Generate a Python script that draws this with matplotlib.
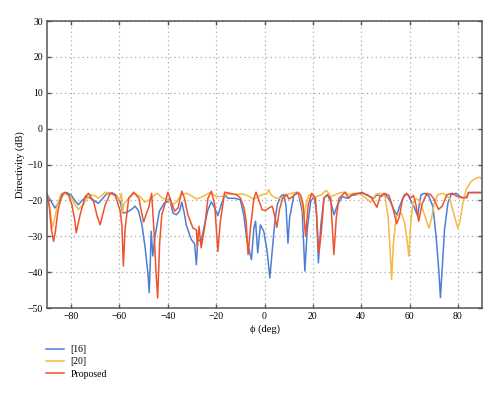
import matplotlib
matplotlib.use("Agg")
import matplotlib.pyplot as plt

plt.rcParams['font.family'] = ['Liberation Serif', 'DejaVu Serif']

# ---- data: [16] ----
phi_16 = [-90, -88.5, -86.7, -85, -83.2, -81.8, -80, -78.5, -77, -75.5, -73.5, -71, -68.8, -67, -65.5,
          -63.2, -61.5, -59.7, -58.7, -56.9, -54.8, -53.6, -52.2, -50.7, -49.3, -48.2, -47.7, -47.2,
          -46.9, -46.2, -45.3, -43.5, -41.4, -40, -39.2, -37.9, -36.5, -35.2, -34.2, -33.2, -32.4,
          -30.3, -28.9, -28.2, -27.6, -26.2, -24.8, -23.4, -22, -20.6, -19.3, -17.9, -16.5, -15.1,
          -12.3, -10, -8.6, -7.2, -5.4, -4.4, -3.7, -2.8, -1.7, -0.3, 1.1, 2.2, 3.2, 4.3, 5.3, 6.6,
          8, 8.9, 9.7, 10.4, 12.2, 14, 15.6, 16.7, 17.7, 19.1, 20.5, 21.5, 22.3, 23.3, 24.6, 26, 27.4,
          28.8, 30.2, 32.2, 34.1, 36, 38, 40.3, 42.5, 45.2, 46.6, 48.3, 49.7, 51.7, 53.8, 54.8, 56,
          57.9, 59.3, 60.7, 62.1, 63.4, 64.1, 64.8, 66.2, 68, 69.7, 71, 72.1, 72.8, 73.5, 74.5, 75.9,
          77.2, 79.3, 81.4, 83.6, 84.4, 87.6, 90]
d_16 = [-18.3, -20, -22.1, -20.5, -18.2, -17.8, -18.5, -20, -21.2, -20, -18.9, -19.8, -20.8, -19.5, -18.3,
        -17.8, -18.5, -20.3, -23.5, -23.3, -22.4, -21.6, -22.8, -26.8, -33.7, -40.6, -45.7, -36,
        -28.6, -35.5, -30, -23, -20.7, -20.3, -19.6, -23.5, -24, -23, -20.5, -23.5, -26.8,
        -30.9, -32.1, -37.9, -30.9, -31.4, -26.8, -22.6, -20.4, -22.1, -24.2, -21.2, -18.4, -19.4,
        -19.4, -19.8, -24, -31.4, -36.5, -27.7, -25.8, -34.6, -26.8, -28.6, -34.2, -41.6, -34, -25.8, -21.2, -18.9,
        -18.3, -21.5, -31.9, -24.9, -18.4, -18, -23, -39.7, -28, -20.3, -18.9, -23, -37.4, -27, -19.4, -18.4, -20.3,
        -24, -21.2, -18.9, -19.4, -18.6, -18.4, -17.7, -18.6, -19.4, -18.4, -18.9, -18.2, -19.8, -23, -24, -21.5,
        -18.4, -18.3, -20.3, -22.1, -24.4, -20.7, -18.4, -18, -18.8, -21.7, -30, -39.3, -47.1, -39.3, -28.1, -20.7,
        -18.4, -18, -19.2, -19.2, -17.8, -17.8, -17.8]

# ---- data: [20] ----
phi_20 = [-90, -88.9, -87.8, -86.8, -85.5, -83.9, -82, -80.2, -78.5, -77, -75, -73.5, -72.1, -70.2, -68.7,
          -67.3, -65.9, -63.5, -61.2, -60, -59.2, -58.8, -58.2, -56.2, -53.8, -51.5, -49.5, -48, -46,
          -44.5, -42.1, -40, -38, -36.5, -34.5, -32.3, -30.5, -28.2, -26.5, -24.5, -22.5, -20, -17.5,
          -15.5, -12, -9, -6.5, -4.5, -2.5, -1, 1, 1.8, 2.6, 4.5, 6, 8.7, 10.1, 12.2, 14.2, 15.6, 16.3,
          17.2, 18.4, 20.5, 23.5, 25.6, 27.5, 30.6, 33, 35, 37, 40, 42, 43.9, 46.2, 48, 49.9, 51.2, 52,
          52.6, 53.3, 54.5, 56.6, 58, 59.3, 59.7, 60.3, 61.4, 62.8, 64.1, 65.5, 66.9, 68, 69, 70.3, 71.7,
          73.8, 76.6, 78.6, 80, 81, 82.1, 83.4, 85.5, 87.6, 89, 90]
d_20 = [-18, -22, -27.7, -25, -20.5, -18, -18.1, -19, -21, -22.5, -21.2, -19.5, -18.4, -18.7, -19.4,
        -18.6, -17.7, -18, -19, -19.8, -18, -23.5, -21, -19.4, -18, -18.9, -20.5, -20, -18.8,
        -18, -19.4, -19.8, -21.2, -20.5, -18.4, -18, -18.6, -19.6, -19.2, -18.5, -17.8, -18.9, -18.9,
        -18.2, -18.3, -18.2, -18.8, -19.7, -18.8, -18.4, -18.1, -17, -18.4, -19.3, -19.4, -19, -18.2, -17.8, -17.8, -21.2, -25,
        -21, -18.4, -19.2, -18.4, -17.2, -19, -18, -17.7, -18.4, -18, -18.4, -19.4, -20.5, -18.2, -18, -19, -25, -34.2,
        -42, -32.3, -24.5, -23.5, -26.3, -32.8, -35.5, -28.1, -20.7, -19.4, -20.2, -22.6, -25.4, -27.7, -25.4, -20.7, -18.4,
        -18, -19.4, -24.4, -27.7, -25.5, -20.7, -17, -14.7, -13.8, -13.5, -14]

# ---- data: Proposed ----
phi_p = [-90, -89, -88.2, -87.3, -86.5, -85.5, -83.9, -82.5, -81, -79.7, -78.5, -77.9, -76.3, -74.2, -72.8,
         -70.7, -69.2, -68, -66.8, -65.9, -63.8, -61.8, -59.7, -59, -58.4, -57.7, -56.2, -54.1, -52,
         -50.8, -50, -48.8, -47.9, -46.7, -45.6, -44.9, -44.2, -43.4, -42.5, -41.4, -40, -38.6, -37.2,
         -35.8, -34.2, -33.1, -31.7, -29.6, -28.2, -27.8, -27.1, -26.2, -24.8, -23.4, -22, -20.6, -19.3,
         -18.3, -16.5, -14.4, -11.6, -10, -8.5, -7.6, -6.8, -5.8, -4.4, -3.5, -2.4, -1, 0.4, 1.8, 3.2,
         4.3, 5.1, 6.2, 7.5, 9.1, 10.1, 11.7, 13.6, 15, 16, 17, 18.1, 19.5, 21.1, 22.5, 23.4, 24.6, 26,
         27.4, 28.7, 29.7, 30.8, 33.4, 34.8, 36.2, 38.2, 40.3, 42.5, 44.5, 46.5, 47.8, 49.5, 51.5, 53.1,
         54.7, 55.8, 57.2, 58.8, 60.5, 61.6, 62.6, 63.8, 65.2, 67.2, 68.8, 70.3, 72, 73.4, 75.5, 77.6,
         79.5, 81.5, 83.7, 84.4, 90]
d_p = [-18, -22, -28, -31.4, -28.5, -23, -18.4, -17.7, -18.6, -21.2, -25.5, -29, -24, -18.9, -18,
       -20.3, -24.5, -26.8, -23.5, -21.2, -18, -18.5, -23, -27, -38.3, -28, -19.4, -17.7, -19.4,
       -23.5, -26, -23.5, -22, -18, -30, -40, -47.2, -32, -24, -21.5, -17.7, -20.3, -23,
       -22.1, -17.4, -19.4, -24, -27.7, -28.2, -32.8, -27.2, -33.2, -27.6, -19.4, -17.4, -21.2, -34.2,
       -26, -17.7, -18, -18.4, -19.3, -22, -25.8, -35.1, -27.7, -19.4, -17.7, -19.8, -22.6, -22.8, -22.1, -21.6,
       -24.4, -27.5, -22.5, -19.4, -18.3, -19.6, -18.9, -17.7, -18.5, -21.2, -30, -21.2, -18, -19.4, -34.6, -29.6, -19.4, -18.4,
       -19.4, -35.1, -24.9, -19.4, -17.7, -19.4, -18.4, -18, -18, -18.4, -19.4, -21.9, -19, -18, -18.6, -22,
       -26.5, -24.5, -19.4, -18, -19.3, -18.6, -21, -25.8, -21, -18, -18.4, -19.8, -22.5, -21.7, -18.4, -18,
       -18.8, -19.2, -19.2, -17.8, -17.8]

labels = ['[16]', '[20]', 'Proposed']
colors = ['#4D7FD4', '#F5BA45', '#F0532C']
xticks = [-80, -60, -40, -20, 0, 20, 40, 60, 80]
yticks = [30, 20, 10, 0, -10, -20, -30, -40, -50]

fig = plt.figure(figsize=(5.0, 3.98), dpi=100)
ax = fig.add_axes([0.094, 0.226, 0.870, 0.721])

l1, = ax.plot(phi_16, d_16, color=colors[0], lw=1.1, label=labels[0])
l2, = ax.plot(phi_20, d_20, color=colors[1], lw=1.1, label=labels[1])
l3, = ax.plot(phi_p, d_p, color=colors[2], lw=1.1, label=labels[2])

ax.set_xlim(-90, 90)
ax.set_ylim(-50, 30)
ax.set_xticks(xticks)
ax.set_yticks(yticks)
ax.grid(True, linestyle=(0, (1, 2.5)), color='#aaaaaa', lw=0.9)
ax.tick_params(direction='in', top=True, right=True, length=3, width=1,
               color='#555555', labelsize=7, pad=3)
for s in ax.spines.values():
    s.set_color('#555555')
    s.set_linewidth(1.1)
ax.set_xlabel('ϕ (deg)', fontsize=7.5, labelpad=2)
ax.set_ylabel('Directivity (dB)', fontsize=7.5, labelpad=2)

fig.legend(handles=[l1, l2, l3], labels=labels, loc='upper left',
           bbox_to_anchor=(0.075, 0.155), frameon=False, fontsize=7,
           handlelength=1.8, labelspacing=0.35, handletextpad=0.7)

fig.savefig('out.png', dpi=100)
